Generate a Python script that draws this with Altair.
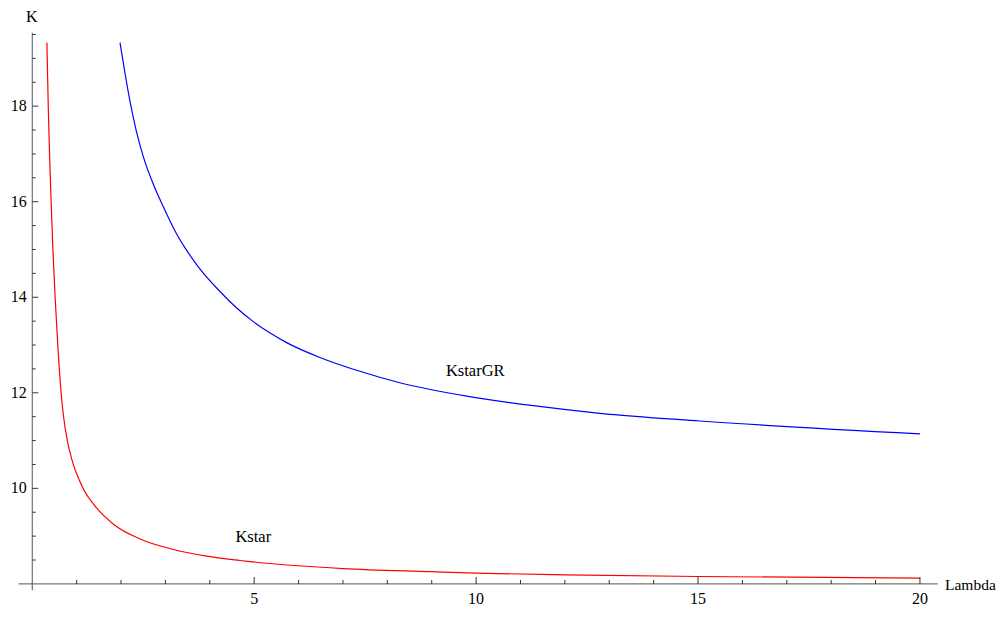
import altair as alt
import pandas as pd

# ---- data ----
kstar_lambda = [0.33, 0.36, 0.39, 0.425, 0.465, 0.515, 0.575, 0.65, 0.705, 0.79, 0.90,
                1.13, 1.45, 1.83, 2.43, 3.18, 3.93, 4.68, 7.0, 9.0, 10.0, 12.0, 15.0, 20.0]
kstar_k = [19.33, 18.0, 17.0, 16.0, 15.0, 14.0, 13.0, 12.0, 11.5, 11.0, 10.58,
           10.03, 9.59, 9.25, 8.94, 8.72, 8.58, 8.49, 8.32, 8.255, 8.225, 8.19, 8.155, 8.12]

kgr_lambda = [1.977, 2.07, 2.20, 2.34, 2.50, 2.73, 2.95, 3.25, 3.48, 3.78, 4.23, 4.6,
              4.98, 5.36, 5.73, 6.48, 7.38, 8.28, 9.79, 11.29, 12.79, 15.04, 20.0]
kgr_k = [19.33, 18.80, 18.11, 17.50, 16.95, 16.36, 15.90, 15.33, 14.98, 14.59, 14.12, 13.78,
         13.49, 13.25, 13.05, 12.74, 12.45, 12.21, 11.93, 11.73, 11.57, 11.41, 11.14]

label_text = ["Kstar", "KstarGR"]
label_x = [4.98, 9.98]
label_y = [9.03, 12.5]

x_major = [5, 10, 15, 20]
x_major_labels = ["5", "10", "15", "20"]
x_minor = [1, 2, 3, 4, 6, 7, 8, 9, 11, 12, 13, 14, 16, 17, 18, 19]
y_major = [10, 12, 14, 16, 18]
y_major_labels = ["10", "12", "14", "16", "18"]
y_minor = [8.5, 9, 9.5, 10.5, 11, 11.5, 12.5, 13, 13.5, 14.5, 15, 15.5,
           16.5, 17, 17.5, 18.5, 19, 19.5]
x_title = "Lambda"
y_title = "K"

FONT = "Liberation Serif"
W, H = 919.2, 557.4
AXIS_COLOR = "#555555"
TICK_COLOR = "#333333"

x_scale = alt.Scale(domain=[-0.31, 20.4], nice=False, zero=False)
y_scale = alt.Scale(domain=[7.868, 19.535], nice=False, zero=False)

df_kstar = pd.DataFrame({"Lambda": kstar_lambda, "K": kstar_k})
df_kgr = pd.DataFrame({"Lambda": kgr_lambda, "K": kgr_k})
df_lab = pd.DataFrame({"x": label_x, "y": label_y, "t": label_text})

red = alt.Chart(df_kstar).mark_line(
    color="#FF0000", strokeWidth=1.2, interpolate="monotone", clip=True
).encode(
    x=alt.X("Lambda:Q", scale=x_scale, axis=None),
    y=alt.Y("K:Q", scale=y_scale, axis=None),
)
blue = alt.Chart(df_kgr).mark_line(
    color="#0000FF", strokeWidth=1.2, interpolate="monotone", clip=True
).encode(
    x=alt.X("Lambda:Q", scale=x_scale, axis=None),
    y=alt.Y("K:Q", scale=y_scale, axis=None),
)
labels = alt.Chart(df_lab).mark_text(
    font=FONT, fontSize=16.5, color="black", align="center", baseline="middle", dy=2.5
).encode(
    x=alt.X("x:Q", scale=x_scale, axis=None),
    y=alt.Y("y:Q", scale=y_scale, axis=None),
    text="t:N",
)

# axis lines (Mathematica-style axes crossing at (0, 8))
x_line = alt.Chart(pd.DataFrame({"a": [0]})).mark_rule(
    color=AXIS_COLOR, strokeWidth=1
).encode(
    x=alt.value(0), x2=alt.value(W),
    y=alt.YDatum(8, type="quantitative", axis=None),
)
y_line = alt.Chart(pd.DataFrame({"a": [0]})).mark_rule(
    color=AXIS_COLOR, strokeWidth=1
).encode(
    y=alt.value(0), y2=alt.value(H),
    x=alt.XDatum(0, type="quantitative", axis=None),
)

# ticks
xt_major = alt.Chart(pd.DataFrame({"v": x_major})).mark_tick(
    orient="vertical", size=7, thickness=1, yOffset=-3.5, color=TICK_COLOR, opacity=1
).encode(
    x=alt.X("v:Q", scale=x_scale, axis=None),
    y=alt.YDatum(8, type="quantitative", axis=None),
)
xt_minor = alt.Chart(pd.DataFrame({"v": x_minor})).mark_tick(
    orient="vertical", size=4, thickness=1, yOffset=-2, color=TICK_COLOR, opacity=1
).encode(
    x=alt.X("v:Q", scale=x_scale, axis=None),
    y=alt.YDatum(8, type="quantitative", axis=None),
)
yt_major = alt.Chart(pd.DataFrame({"v": y_major})).mark_tick(
    orient="horizontal", size=6, thickness=1, xOffset=3, color=TICK_COLOR, opacity=1
).encode(
    y=alt.Y("v:Q", scale=y_scale, axis=None),
    x=alt.XDatum(0, type="quantitative", axis=None),
)
yt_minor = alt.Chart(pd.DataFrame({"v": y_minor})).mark_tick(
    orient="horizontal", size=3.5, thickness=1, xOffset=1.75, color=TICK_COLOR, opacity=1
).encode(
    y=alt.Y("v:Q", scale=y_scale, axis=None),
    x=alt.XDatum(0, type="quantitative", axis=None),
)

# tick labels
x_lab = alt.Chart(pd.DataFrame({"v": x_major, "t": x_major_labels})).mark_text(
    font=FONT, fontSize=16, color="black", align="center", baseline="alphabetic", dy=19.7
).encode(
    x=alt.X("v:Q", scale=x_scale, axis=None),
    y=alt.YDatum(8, type="quantitative", axis=None),
    text="t:N",
)
y_lab = alt.Chart(pd.DataFrame({"v": y_major, "t": y_major_labels})).mark_text(
    font=FONT, fontSize=16, color="black", align="right", baseline="middle", dx=-5.6
).encode(
    y=alt.Y("v:Q", scale=y_scale, axis=None),
    x=alt.XDatum(0, type="quantitative", axis=None),
    text="t:N",
)

# axis titles
x_tit = alt.Chart(pd.DataFrame({"t": [x_title]})).mark_text(
    font=FONT, fontSize=15.5, color="black", align="left", baseline="alphabetic", dy=5.9
).encode(
    x=alt.value(926.5),
    y=alt.YDatum(8, type="quantitative", axis=None),
    text="t:N",
)
y_tit = alt.Chart(pd.DataFrame({"t": [y_title]})).mark_text(
    font=FONT, fontSize=16, color="black", align="center", baseline="alphabetic", dx=-0.6
).encode(
    x=alt.XDatum(0, type="quantitative", axis=None),
    y=alt.value(-11.3),
    text="t:N",
)

chart = alt.layer(
    red, blue, labels, x_line, y_line, xt_major, xt_minor, yt_major, yt_minor,
    x_lab, y_lab, x_tit, y_tit
).properties(
    width=W,
    height=H,
    autosize=alt.AutoSizeParams(type="none"),
    padding={"left": 10.5, "top": 24.8, "right": 58.3, "bottom": 17.8},
    background="white",
).configure_view(stroke=None)

chart.save("out.html", embed_options={"renderer": "svg", "actions": False})
